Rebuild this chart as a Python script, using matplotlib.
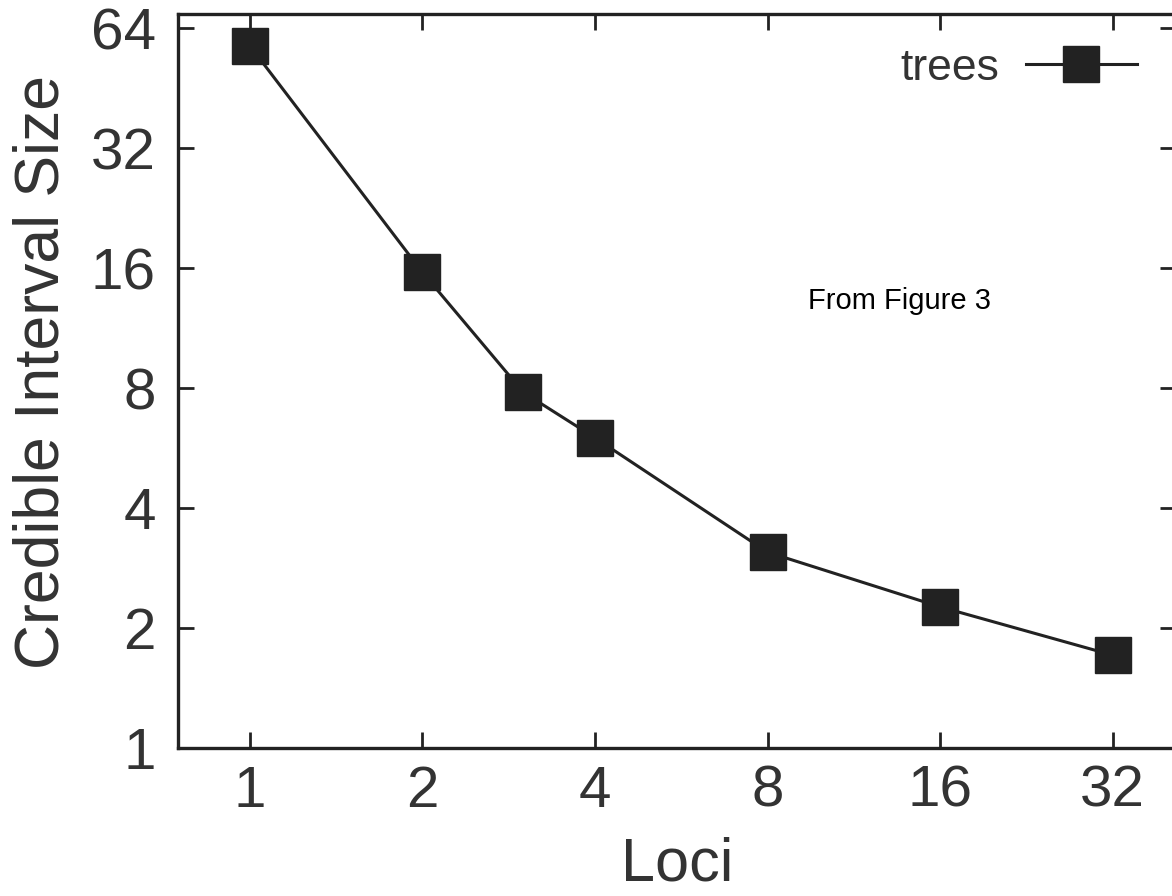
import matplotlib.pyplot as plt
from matplotlib.ticker import FixedLocator, NullLocator

# 数据：近似值
loci = [1, 2, 3, 4, 8, 16, 32]
interval_size = [57.7, 15.6, 7.8, 6.0, 3.1, 2.26, 1.71]
xticks = [1, 2, 4, 8, 16, 32]
yticks = [1, 2, 4, 8, 16, 32, 64]

plt.rcParams['font.family'] = ['Liberation Sans', 'DejaVu Sans']
ink = '#222222'
txt = '#333333'

fig = plt.figure(figsize=(11.72, 8.96), dpi=100)
ax = fig.add_axes([178 / 1172, 148 / 896, 998 / 1172, 734 / 896])

ax.plot(loci, interval_size, color=ink, lw=2.2, marker='s', markersize=25.5,
        markerfacecolor=ink, markeredgecolor=ink, label='trees')

ax.set_xscale('log', base=2)
ax.set_yscale('log', base=2)
ax.set_xlim(0.7488, 41.3)
ax.set_ylim(1, 69.4)

ax.xaxis.set_major_locator(FixedLocator(xticks))
ax.yaxis.set_major_locator(FixedLocator(yticks))
ax.xaxis.set_minor_locator(NullLocator())
ax.yaxis.set_minor_locator(NullLocator())
ax.set_xticklabels([str(v) for v in xticks])
ax.set_yticklabels([str(v) for v in yticks])

ax.tick_params(which='major', direction='in', length=11.5, width=2, color=ink,
               top=True, right=True, labelsize=42, labelcolor=txt)
ax.tick_params(axis='y', pad=16)
ax.tick_params(axis='x', pad=12)
for s in ax.spines.values():
    s.set_linewidth(2.4)
    s.set_color(ink)

ax.set_xlabel('Loci', fontsize=44, color=txt, labelpad=13)
ax.set_ylabel('Credible Interval Size', fontsize=45, color=txt, labelpad=14)
ax.yaxis.label.set_y(0.512)

ax.legend(loc='upper right', bbox_to_anchor=(1137 / 1172, 1 - 48 / 896),
          bbox_transform=fig.transFigure, frameon=False, markerfirst=False,
          fontsize=32, labelcolor=txt, handlelength=2.5, handletextpad=0.6,
          borderpad=0, borderaxespad=0)

fig.text(899 / 1172, 1 - 301 / 896, 'From Figure 3', fontsize=21,
         ha='center', va='center', color='black')

fig.savefig('out.png', dpi=100)
